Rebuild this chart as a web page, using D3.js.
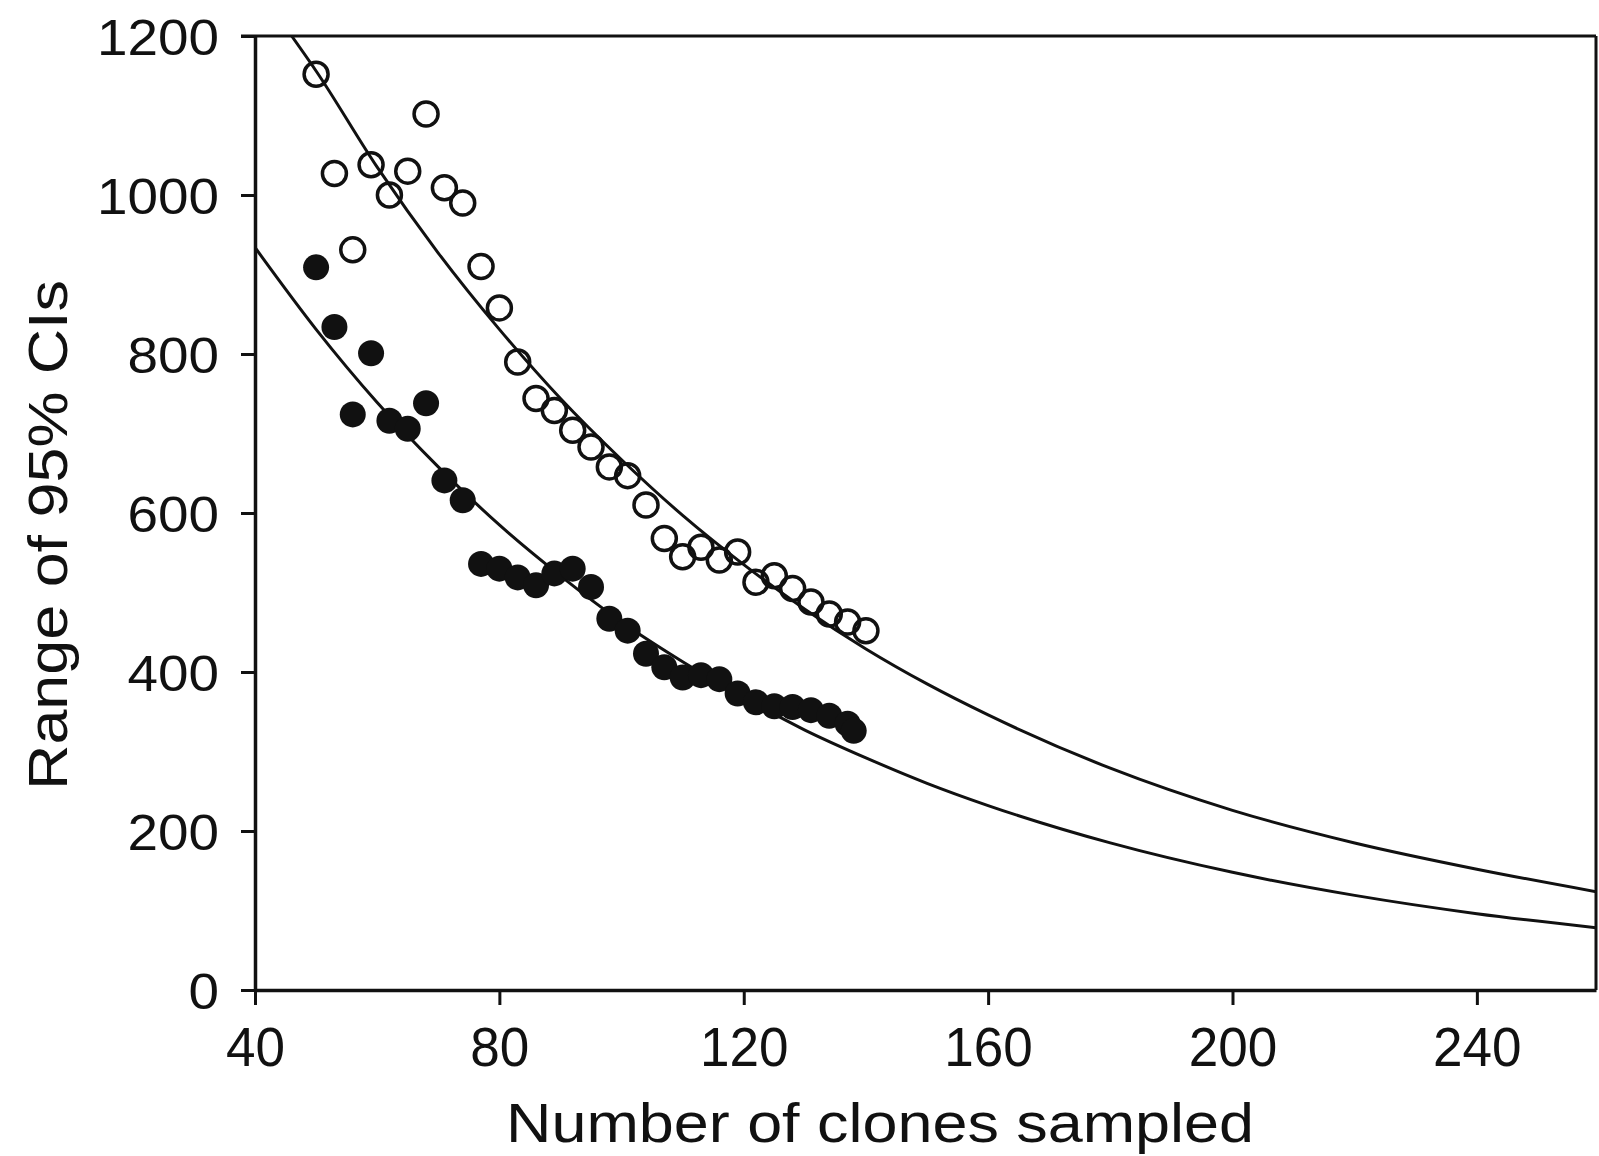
<!DOCTYPE html>
<html>
<head>
<meta charset="utf-8">
<script src="https://cdn.jsdelivr.net/npm/d3@7"></script>
<style>
  body { margin: 0; background: #fff; }
  svg { display: block; }
  text { font-family: "Liberation Sans", Arial, sans-serif; fill: #111; }
</style>
</head>
<body>
<div id="chart"></div>
<script>
/********** Data **********/
// open circles
var openX = [50, 53, 56, 59, 62, 65, 68, 71, 74, 77, 80, 83, 86, 89, 92, 95, 98, 101, 104, 107, 110, 113, 116, 119, 122, 125, 128, 131, 134, 137, 140]
var openY = [1152, 1027, 931, 1038, 1000, 1030, 1102, 1009, 990, 910, 858, 790, 744, 729, 704, 683, 658, 647, 610, 568, 545, 557, 541, 551, 513, 521, 505, 488, 473, 463, 452]
// filled circles
var filledX = [50, 53, 56, 59, 62, 65, 68, 71, 74, 77, 80, 83, 86, 89, 92, 95, 98, 101, 104, 107, 110, 113, 116, 119, 122, 125, 128, 131, 134, 137, 138]
var filledY = [909, 834, 724, 801, 716, 706, 738, 641, 616, 536, 530, 519, 509, 524, 530, 507, 467, 452, 423, 406, 393, 396, 391, 373, 362, 357, 356, 352, 345, 335, 326]
// fitted curves
var upperCurveX = [46, 50, 60, 70, 80, 90, 100, 110, 120, 130, 140, 150, 160, 180, 200, 220, 240, 260]
var upperCurveY = [1200, 1156, 1035, 927, 831, 744, 667, 597, 535, 479, 429, 385, 346, 279, 226, 185, 152, 123]
var lowerCurveX = [40, 50, 60, 70, 80, 90, 100, 110, 120, 130, 140, 150, 160, 180, 200, 220, 240, 260]
var lowerCurveY = [934, 831, 739, 658, 585, 521, 463, 413, 368, 327, 292, 260, 232, 185, 148, 119, 96, 78]
// tick labels
var xTicks = [40, 80, 120, 160, 200, 240]
var yTicks = [0, 200, 400, 600, 800, 1000, 1200]

/********** Layout **********/
var width = 1599, height = 1156
var plot = {left: 255, right: 1596, top: 36, bottom: 990}

var svg = d3.select("#chart").append("svg")
    .attr("width", width)
    .attr("height", height)

var x = d3.scaleLinear()
    .domain([40, 259.5])
    .range([plot.left, plot.right])

var y = d3.scaleLinear()
    .domain([0, 1200])
    .range([plot.bottom, plot.top])

svg.append("clipPath").attr("id", "clip")
  .append("rect")
    .attr("x", plot.left).attr("y", plot.top)
    .attr("width", plot.right - plot.left)
    .attr("height", plot.bottom - plot.top)

// frame: top and right edges
svg.append("line")
    .attr("x1", plot.left - 14).attr("x2", plot.right)
    .attr("y1", y(1200)).attr("y2", y(1200))
    .attr("stroke", "#111").attr("stroke-width", 3)
svg.append("line")
    .attr("x1", x(259.5)).attr("x2", x(259.5))
    .attr("y1", y(1200)).attr("y2", y(0))
    .attr("stroke", "#111").attr("stroke-width", 3)

/********** Axes **********/
var xAxis = svg.append("g")
    .attr("transform", "translate(0," + plot.bottom + ")")
    .call(d3.axisBottom(x).tickValues(xTicks).tickFormat(d3.format("d")).tickSize(15).tickSizeOuter(0))
xAxis.select(".domain").attr("stroke", "#111").attr("stroke-width", 3.5)
xAxis.selectAll(".tick line").attr("stroke", "#111").attr("stroke-width", 3)
xAxis.selectAll(".tick text")
    .attr("y", 76).attr("dy", 0)
    .style("font-size", "56px")
    .attr("textLength", function(d) { return String(d).length * 29.5 })
    .attr("lengthAdjust", "spacingAndGlyphs")

var yAxis = svg.append("g")
    .attr("transform", "translate(" + plot.left + ",0)")
    .call(d3.axisLeft(y).tickValues(yTicks).tickFormat(d3.format("d")).tickSize(14).tickSizeOuter(0))
yAxis.select(".domain").attr("stroke", "#111").attr("stroke-width", 3.5)
yAxis.selectAll(".tick line").attr("stroke", "#111").attr("stroke-width", 3)
yAxis.selectAll(".tick text")
    .attr("x", -36).attr("dy", "0.36em")
    .style("font-size", "50px")
    .attr("textLength", function(d) { return String(d).length * 30.5 })
    .attr("lengthAdjust", "spacingAndGlyphs")

// axis titles
svg.append("text")
    .attr("x", 880).attr("y", 1142)
    .attr("text-anchor", "middle")
    .style("font-size", "55px")
    .attr("textLength", 748)
    .attr("lengthAdjust", "spacingAndGlyphs")
    .text("Number of clones sampled")

svg.append("text")
    .attr("transform", "translate(67,535) rotate(-90)")
    .attr("text-anchor", "middle")
    .style("font-size", "56px")
    .attr("textLength", 510)
    .attr("lengthAdjust", "spacingAndGlyphs")
    .text("Range of 95% CIs")

/********** Curves **********/
var line = d3.line()
    .x(function(d) { return x(d[0]) })
    .y(function(d) { return y(d[1]) })
    .curve(d3.curveMonotoneX)

var curves = svg.append("g").attr("clip-path", "url(#clip)")
curves.append("path")
    .datum(d3.zip(upperCurveX, upperCurveY))
    .attr("fill", "none").attr("stroke", "#111").attr("stroke-width", 3)
    .attr("d", line)
curves.append("path")
    .datum(d3.zip(lowerCurveX, lowerCurveY))
    .attr("fill", "none").attr("stroke", "#111").attr("stroke-width", 3)
    .attr("d", line)

/********** Points **********/
svg.append("g").selectAll("circle")
  .data(d3.zip(openX, openY))
  .join("circle")
    .attr("cx", function(d) { return x(d[0]) })
    .attr("cy", function(d) { return y(d[1]) })
    .attr("r", 12)
    .attr("fill", "none")
    .attr("stroke", "#111")
    .attr("stroke-width", 3.5)

svg.append("g").selectAll("circle")
  .data(d3.zip(filledX, filledY))
  .join("circle")
    .attr("cx", function(d) { return x(d[0]) })
    .attr("cy", function(d) { return y(d[1]) })
    .attr("r", 13)
    .attr("fill", "#111")
</script>
</body>
</html>
